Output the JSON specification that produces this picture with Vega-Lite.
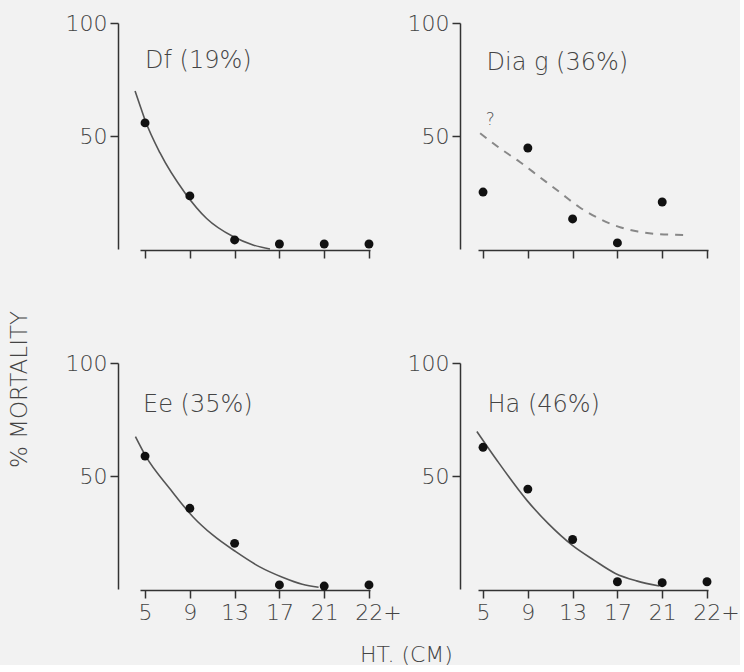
{
  "$schema": "https://vega.github.io/schema/vega-lite/v6.json",
  "background": "#f2f2f2",
  "padding": {"left": 8, "top": 12, "right": 0, "bottom": 0},
  "config": {
    "view": {"stroke": null},
    "font": "DejaVu Sans",
    "axis": {
      "grid": false,
      "domainColor": "#333",
      "tickColor": "#333",
      "domainWidth": 1.5,
      "tickWidth": 1.5,
      "tickSize": 8,
      "labelFont": "DejaVu Sans",
      "labelFontSize": 22,
      "labelColor": "#444",
      "labelFontWeight": 200,
      "titleFont": "DejaVu Sans",
      "titleFontWeight": 200,
      "titleColor": "#444"
    }
  },
  "datasets": {
    "pts": [
      {"panel": "Df", "ht": 5, "mortality": 55.8},
      {"panel": "Df", "ht": 9, "mortality": 23.5},
      {"panel": "Df", "ht": 13, "mortality": 4.0},
      {"panel": "Df", "ht": 17, "mortality": 2.2},
      {"panel": "Df", "ht": 21, "mortality": 2.2},
      {"panel": "Df", "ht": 25, "mortality": 2.2},
      {"panel": "Dia g", "ht": 5, "mortality": 25.2},
      {"panel": "Dia g", "ht": 9, "mortality": 44.7},
      {"panel": "Dia g", "ht": 13, "mortality": 13.3},
      {"panel": "Dia g", "ht": 17, "mortality": 2.7},
      {"panel": "Dia g", "ht": 21, "mortality": 20.8},
      {"panel": "Ee", "ht": 5, "mortality": 58.8},
      {"panel": "Ee", "ht": 9, "mortality": 35.7},
      {"panel": "Ee", "ht": 13, "mortality": 20.2},
      {"panel": "Ee", "ht": 17, "mortality": 1.8},
      {"panel": "Ee", "ht": 21, "mortality": 1.3},
      {"panel": "Ee", "ht": 25, "mortality": 1.8},
      {"panel": "Ha", "ht": 5, "mortality": 62.7},
      {"panel": "Ha", "ht": 9, "mortality": 44.2},
      {"panel": "Ha", "ht": 13, "mortality": 21.9},
      {"panel": "Ha", "ht": 17, "mortality": 3.2},
      {"panel": "Ha", "ht": 21, "mortality": 2.8},
      {"panel": "Ha", "ht": 25, "mortality": 3.2}
    ],
    "curve": [
      {"panel": "Df", "ht": 4.11, "mortality": 69.9},
      {"panel": "Df", "ht": 4.62, "mortality": 62.5},
      {"panel": "Df", "ht": 5.0, "mortality": 57.1},
      {"panel": "Df", "ht": 6.34, "mortality": 42.5},
      {"panel": "Df", "ht": 8.57, "mortality": 24.8},
      {"panel": "Df", "ht": 10.5, "mortality": 13.5},
      {"panel": "Df", "ht": 12.86, "mortality": 5.5},
      {"panel": "Df", "ht": 14.64, "mortality": 1.8},
      {"panel": "Df", "ht": 16.16, "mortality": 0},
      {"panel": "Dia g", "ht": 4.74, "mortality": 51.2},
      {"panel": "Dia g", "ht": 6.5, "mortality": 44.6},
      {"panel": "Dia g", "ht": 8.26, "mortality": 38.6},
      {"panel": "Dia g", "ht": 10.02, "mortality": 32.0},
      {"panel": "Dia g", "ht": 11.78, "mortality": 25.4},
      {"panel": "Dia g", "ht": 13.55, "mortality": 18.7},
      {"panel": "Dia g", "ht": 15.31, "mortality": 13.6},
      {"panel": "Dia g", "ht": 17.07, "mortality": 9.9},
      {"panel": "Dia g", "ht": 18.83, "mortality": 7.7},
      {"panel": "Dia g", "ht": 20.6, "mortality": 6.6},
      {"panel": "Dia g", "ht": 22.97, "mortality": 6.2},
      {"panel": "Ee", "ht": 4.14, "mortality": 67.4},
      {"panel": "Ee", "ht": 5.06, "mortality": 58.8},
      {"panel": "Ee", "ht": 7.2, "mortality": 44.5},
      {"panel": "Ee", "ht": 9.27, "mortality": 32.0},
      {"panel": "Ee", "ht": 11.04, "mortality": 23.9},
      {"panel": "Ee", "ht": 13.1, "mortality": 16.5},
      {"panel": "Ee", "ht": 15.2, "mortality": 9.9},
      {"panel": "Ee", "ht": 17.27, "mortality": 5.2},
      {"panel": "Ee", "ht": 19.04, "mortality": 2.1},
      {"panel": "Ee", "ht": 20.5, "mortality": 0.75},
      {"panel": "Ha", "ht": 4.45, "mortality": 69.7},
      {"panel": "Ha", "ht": 6.19, "mortality": 57.3},
      {"panel": "Ha", "ht": 8.96, "mortality": 39.0},
      {"panel": "Ha", "ht": 10.85, "mortality": 28.8},
      {"panel": "Ha", "ht": 12.98, "mortality": 19.3},
      {"panel": "Ha", "ht": 14.93, "mortality": 12.7},
      {"panel": "Ha", "ht": 16.82, "mortality": 6.9},
      {"panel": "Ha", "ht": 18.71, "mortality": 3.6},
      {"panel": "Ha", "ht": 20.76, "mortality": 1.3}
    ],
    "titles": [
      {"panel": "Df", "ht": 5.0, "mortality": 83.2, "label": "Df (19%)"},
      {"panel": "Dia g", "ht": 5.31, "mortality": 82.3, "label": "Dia g (36%)"},
      {"panel": "Ee", "ht": 4.82, "mortality": 81.4, "label": "Ee (35%)"},
      {"panel": "Ha", "ht": 5.4, "mortality": 81.6, "label": "Ha (46%)"}
    ],
    "notes": [
      {"panel": "Dia g", "ht": 5.64, "mortality": 57.1, "label": "?"}
    ]
  },
  "bounds": "flush",
  "columns": 2,
  "spacing": {"row": 114, "column": 108},
  "concat": [
    {
      "width": 230, "height": 226,
      "encoding": {
        "x": {"field": "ht", "type": "quantitative", "scale": {"domain": [4.55, 25.09], "nice": false, "zero": false},
              "axis": {"values": [5, 9, 13, 17, 21, 25], "labels": false, "title": null, "offset": 1}},
        "y": {"field": "mortality", "type": "quantitative", "scale": {"domain": [0, 100], "nice": false, "zero": false},
              "axis": {"values": [50, 100], "offset": 22, "labelPadding": 3,
                       "title": "% MORTALITY", "titleX": -99, "titleY": 366, "titleAngle": -90,
                       "titleAlign": "center", "titleBaseline": "middle", "titleFontSize": 23}}
      },
      "layer": [
        {"data": {"name": "curve"}, "transform": [{"filter": "datum.panel == 'Df'"}],
         "mark": {"type": "line", "interpolate": "monotone", "color": "#555", "strokeWidth": 1.6}},
        {"data": {"name": "pts"}, "transform": [{"filter": "datum.panel == 'Df'"}],
         "mark": {"type": "circle", "size": 80, "color": "#111", "opacity": 1}},
        {"data": {"name": "titles"}, "transform": [{"filter": "datum.panel == 'Df'"}],
         "mark": {"type": "text", "align": "left", "baseline": "middle", "fontSize": 24, "fontWeight": 200, "color": "#444"},
         "encoding": {"text": {"field": "label"}}}
      ]
    },
    {
      "width": 230, "height": 226,
      "encoding": {
        "x": {"field": "ht", "type": "quantitative", "scale": {"domain": [4.55, 25.09], "nice": false, "zero": false},
              "axis": {"values": [5, 9, 13, 17, 21, 25], "labels": false, "title": null, "offset": 1}},
        "y": {"field": "mortality", "type": "quantitative", "scale": {"domain": [0, 100], "nice": false, "zero": false},
              "axis": {"values": [50, 100], "offset": 18, "labelPadding": 3, "title": null}}
      },
      "layer": [
        {"data": {"name": "curve"}, "transform": [{"filter": "datum.panel == 'Dia g'"}],
         "mark": {"type": "line", "interpolate": "monotone", "color": "#888", "strokeWidth": 2, "strokeDash": [8, 7]}},
        {"data": {"name": "pts"}, "transform": [{"filter": "datum.panel == 'Dia g'"}],
         "mark": {"type": "circle", "size": 80, "color": "#111", "opacity": 1}},
        {"data": {"name": "titles"}, "transform": [{"filter": "datum.panel == 'Dia g'"}],
         "mark": {"type": "text", "align": "left", "baseline": "middle", "fontSize": 24, "fontWeight": 200, "color": "#444"},
         "encoding": {"text": {"field": "label"}}},
        {"data": {"name": "notes"},
         "mark": {"type": "text", "align": "center", "baseline": "middle", "fontSize": 17, "fontWeight": 200, "color": "#555"},
         "encoding": {"text": {"field": "label"}}}
      ]
    },
    {
      "width": 230, "height": 226,
      "encoding": {
        "x": {"field": "ht", "type": "quantitative", "scale": {"domain": [4.55, 25.09], "nice": false, "zero": false},
              "axis": {"values": [5, 9, 13, 17, 21, 25], "offset": 1, "labelPadding": 4,
                       "labelExpr": "datum.value == 25 ? '22+' : datum.label",
                       "labelOffset": {"condition": {"test": "datum.value == 25", "value": 9}, "value": 0},
                       "title": "HT. (CM)", "titleX": 266, "titleY": 64, "titleAlign": "center",
                       "titleBaseline": "middle", "titleFontSize": 22}},
        "y": {"field": "mortality", "type": "quantitative", "scale": {"domain": [0, 100], "nice": false, "zero": false},
              "axis": {"values": [50, 100], "offset": 22, "labelPadding": 3, "title": null}}
      },
      "layer": [
        {"data": {"name": "curve"}, "transform": [{"filter": "datum.panel == 'Ee'"}],
         "mark": {"type": "line", "interpolate": "monotone", "color": "#555", "strokeWidth": 1.6}},
        {"data": {"name": "pts"}, "transform": [{"filter": "datum.panel == 'Ee'"}],
         "mark": {"type": "circle", "size": 80, "color": "#111", "opacity": 1}},
        {"data": {"name": "titles"}, "transform": [{"filter": "datum.panel == 'Ee'"}],
         "mark": {"type": "text", "align": "left", "baseline": "middle", "fontSize": 24, "fontWeight": 200, "color": "#444"},
         "encoding": {"text": {"field": "label"}}}
      ]
    },
    {
      "width": 230, "height": 226,
      "encoding": {
        "x": {"field": "ht", "type": "quantitative", "scale": {"domain": [4.55, 25.09], "nice": false, "zero": false},
              "axis": {"values": [5, 9, 13, 17, 21, 25], "offset": 1, "labelPadding": 4,
                       "labelExpr": "datum.value == 25 ? '22+' : datum.label",
                       "labelOffset": {"condition": {"test": "datum.value == 25", "value": 9}, "value": 0},
                       "title": null}},
        "y": {"field": "mortality", "type": "quantitative", "scale": {"domain": [0, 100], "nice": false, "zero": false},
              "axis": {"values": [50, 100], "offset": 18, "labelPadding": 3, "title": null}}
      },
      "layer": [
        {"data": {"name": "curve"}, "transform": [{"filter": "datum.panel == 'Ha'"}],
         "mark": {"type": "line", "interpolate": "monotone", "color": "#555", "strokeWidth": 1.6}},
        {"data": {"name": "pts"}, "transform": [{"filter": "datum.panel == 'Ha'"}],
         "mark": {"type": "circle", "size": 80, "color": "#111", "opacity": 1}},
        {"data": {"name": "titles"}, "transform": [{"filter": "datum.panel == 'Ha'"}],
         "mark": {"type": "text", "align": "left", "baseline": "middle", "fontSize": 24, "fontWeight": 200, "color": "#444"},
         "encoding": {"text": {"field": "label"}}}
      ]
    }
  ]
}
